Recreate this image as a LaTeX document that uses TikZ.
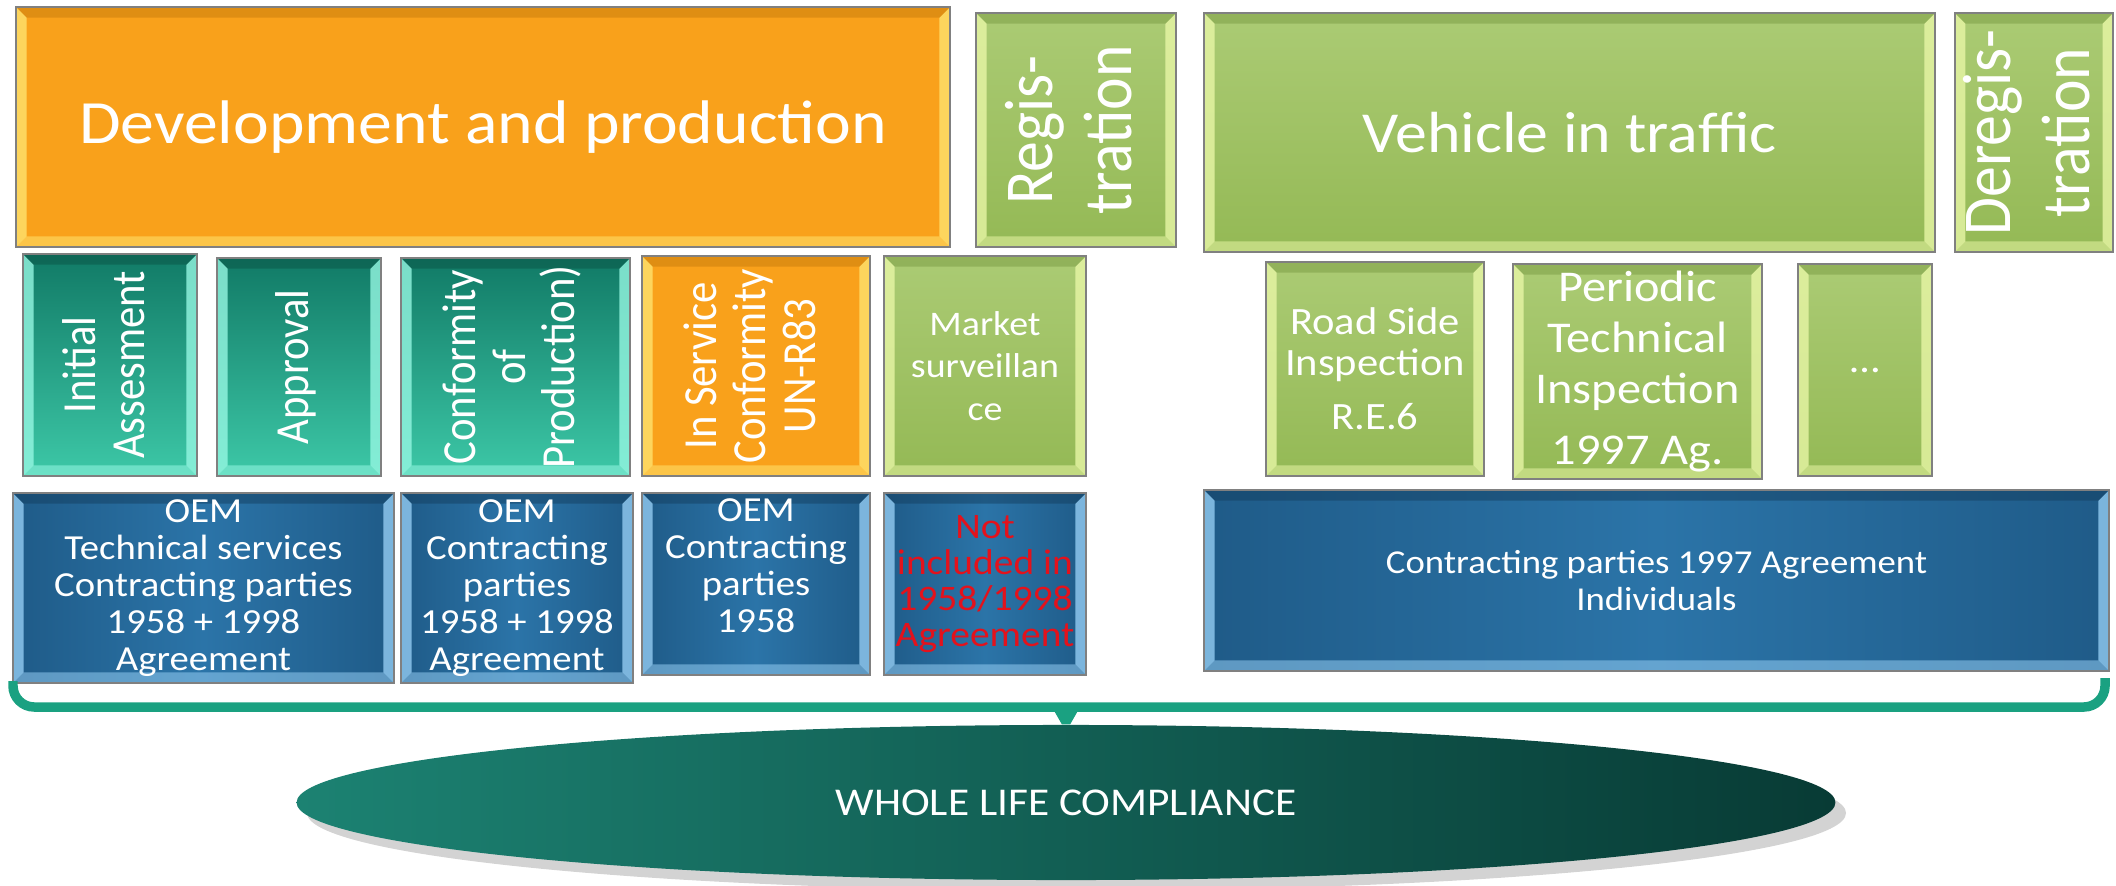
\documentclass[tikz,border=0pt]{standalone}
\usepackage{fontspec}
\usepackage{graphicx}
\setmainfont{Carlito}
\newfontfamily\widefont[FakeStretch=1.1]{Carlito}
\newfontfamily\slimfont[FakeStretch=0.9]{Carlito}
\usetikzlibrary{shapes.geometric,shadows}

\definecolor{orangemid}{HTML}{F9A11B}
\definecolor{orangelight}{HTML}{FFE36E}
\definecolor{orangedark}{HTML}{C67C0C}
\definecolor{greentop}{HTML}{ABCB74}
\definecolor{greenbot}{HTML}{94B955}
\definecolor{greenlight}{HTML}{E8F6A6}
\definecolor{greendark}{HTML}{7A9B42}
\definecolor{tealtop}{HTML}{117A66}
\definecolor{tealbot}{HTML}{3DC8A7}
\definecolor{teallight}{HTML}{95F7E2}
\definecolor{tealdark}{HTML}{0B5446}
\definecolor{blueside}{HTML}{1F5B88}
\definecolor{bluemid}{HTML}{2B74A8}
\definecolor{bluelight}{HTML}{93CCF2}
\definecolor{bluedark}{HTML}{143F60}
\definecolor{bracegreen}{HTML}{1AA181}
\definecolor{ovalleft}{HTML}{1C8272}
\definecolor{ovalright}{HTML}{083B35}
\definecolor{notred}{HTML}{E3121C}

\newcommand\fsz[2]{\fontsize{#1}{#2}\selectfont}
\newcommand\uptext[1]{\rotatebox{90}{\begin{tabular}{@{}c@{}}#1\end{tabular}}}
\newcommand\bevel[2]{%
  \coordinate (bsw) at (path picture bounding box.south west);
  \coordinate (bse) at (path picture bounding box.south east);
  \coordinate (bnw) at (path picture bounding box.north west);
  \coordinate (bne) at (path picture bounding box.north east);
  \fill[#1,opacity=.8] (bsw) -- ++(3pt,3pt) -- ([shift={(3pt,-3pt)}]bnw) -- (bnw) -- cycle;
  \fill[#1,opacity=.8] (bse) -- ++(-3pt,3pt) -- ([shift={(-3pt,-3pt)}]bne) -- (bne) -- cycle;
  \fill[#1,opacity=.55] (bsw) -- ++(3pt,3pt) -- ([shift={(-3pt,3pt)}]bse) -- (bse) -- cycle;
  \fill[#2,opacity=.5] (bnw) -- ++(3pt,-3pt) -- ([shift={(-3pt,-3pt)}]bne) -- (bne) -- cycle;
}

\begin{document}
\begin{tikzpicture}[x=0.01cm, y=-0.01cm,
    box/.style={draw=black!50, line width=0.4pt, inner sep=0pt, text=white, align=center},
    boxsize/.style 2 args={minimum width=#1*0.01cm, minimum height=#2*0.01cm},
    obox/.style={box, fill=orangemid, path picture={\bevel{orangelight}{orangedark}}},
    gbox/.style={box, top color=greentop, bottom color=greenbot, path picture={\bevel{greenlight}{greendark}}},
    tbox/.style={box, top color=tealtop, bottom color=tealbot, path picture={\bevel{teallight}{tealdark}}},
    bbox/.style={box, left color=blueside, right color=blueside, middle color=bluemid, path picture={\bevel{bluelight}{bluedark}}},
    brace/.style={bracegreen, line width=2.7pt, rounded corners=6pt}]

    \useasboundingbox (0,0) rectangle (2116,885);

    % phases
    \node[obox, boxsize={934}{240}, font=\widefont\fsz{17.5}{20}] (dev) at (483,127) {Development and production};
    \node[gbox, boxsize={200}{234}, font=\slimfont\fsz{19.5}{22.5}] (reg) at (1076,130) {\uptext{Regis-\\tration}};
    \node[gbox, boxsize={731}{239}, font=\widefont\fsz{16.5}{19}] (veh) at (1569.5,132.5) {Vehicle in traffic};
    \node[gbox, boxsize={154}{239}, font=\slimfont\fsz{19.5}{22.5}] (dereg) at (2034,132.5) {\uptext{Deregis-\\tration}};

    % activities
    \node[tbox, boxsize={174}{222}, font=\slimfont\fsz{13.5}{14}] (init) at (110,365) {\uptext{Initial\\Assesment}};
    \node[tbox, boxsize={164}{218}, font=\slimfont\fsz{13.5}{14}] (appr) at (299,367) {\uptext{Approval}};
    \node[tbox, boxsize={229}{218}, font=\slimfont\fsz{13.5}{14}] (cop) at (515.5,367) {\uptext{Conformity\\of\\Production)}};
    \node[obox, boxsize={228}{220}, font=\slimfont\fsz{13.5}{14}] (isc) at (756,366) {\uptext{In Service\\Conformity\\UN-R83}};
    \node[gbox, boxsize={202}{220}, font=\widefont\fsz{9.8}{12}] (market) at (985,366) {Market\\surveillan\\ce};
    \node[gbox, boxsize={218}{214}, font=\widefont\fsz{11}{11.5}] (rsi) at (1375,369) {Road Side\\Inspection\\[4pt]R.E.6};
    \node[gbox, boxsize={249}{215}, font=\widefont\fsz{12.5}{14.5}] (pti) at (1637.5,371.5) {Periodic\\Technical\\Inspection\\[3pt]1997 Ag.};
    \node[gbox, boxsize={134}{212}, font=\widefont\fsz{11}{13}] (more) at (1865,370) {\dots};

    % parties
    \node[bbox, boxsize={381}{190}, font=\widefont\fsz{10}{10.5}] (oem1) at (203.5,588) {OEM\\Technical services\\Contracting parties\\1958 + 1998\\Agreement};
    \node[bbox, boxsize={232}{190}, font=\widefont\fsz{10}{10.5}] (oem2) at (517,588) {OEM\\Contracting\\parties\\1958 + 1998\\Agreement};
    \node[bbox, boxsize={228}{182}, font=\widefont\fsz{10}{10.5}] (oem3) at (756,584) {OEM\\Contracting\\parties\\1958\\ \mbox{}};
    \node[bbox, boxsize={202}{182}, font=\widefont\fsz{10.2}{10.2}, text=notred] (notinc) at (985,584) {Not\\included in\\1958/1998\\Agreement};
    \node[bbox, boxsize={905}{181}, font=\widefont\fsz{9.5}{10.5}] (cp97) at (1656.5,580.5) {Contracting parties 1997 Agreement\\Individuals};

    \node[ellipse, minimum width=15.38cm, minimum height=1.55cm, inner sep=0pt, left color=ovalleft, right color=ovalright,
          drop shadow={shadow xshift=3pt, shadow yshift=-3pt, opacity=.35}, text=white, font=\widefont\fsz{11.2}{13}] (wlc) at (1066,802.5) {WHOLE LIFE COMPLIANCE};

    % brace
    \coordinate (liney) at (0,707);
    \coordinate (bl) at (13,681);
    \coordinate (br) at (2105,678);
    \coordinate (bmid) at (wlc.north |- liney);
    \draw[brace] (bl) |- (bmid) -| (br);
    \fill[bracegreen] ([xshift=-4pt]bmid) -- ([xshift=4pt]bmid) -- ([xshift=1.2pt]wlc.north) -- ([xshift=-1.2pt]wlc.north) -- cycle;

\end{tikzpicture}
\end{document}
